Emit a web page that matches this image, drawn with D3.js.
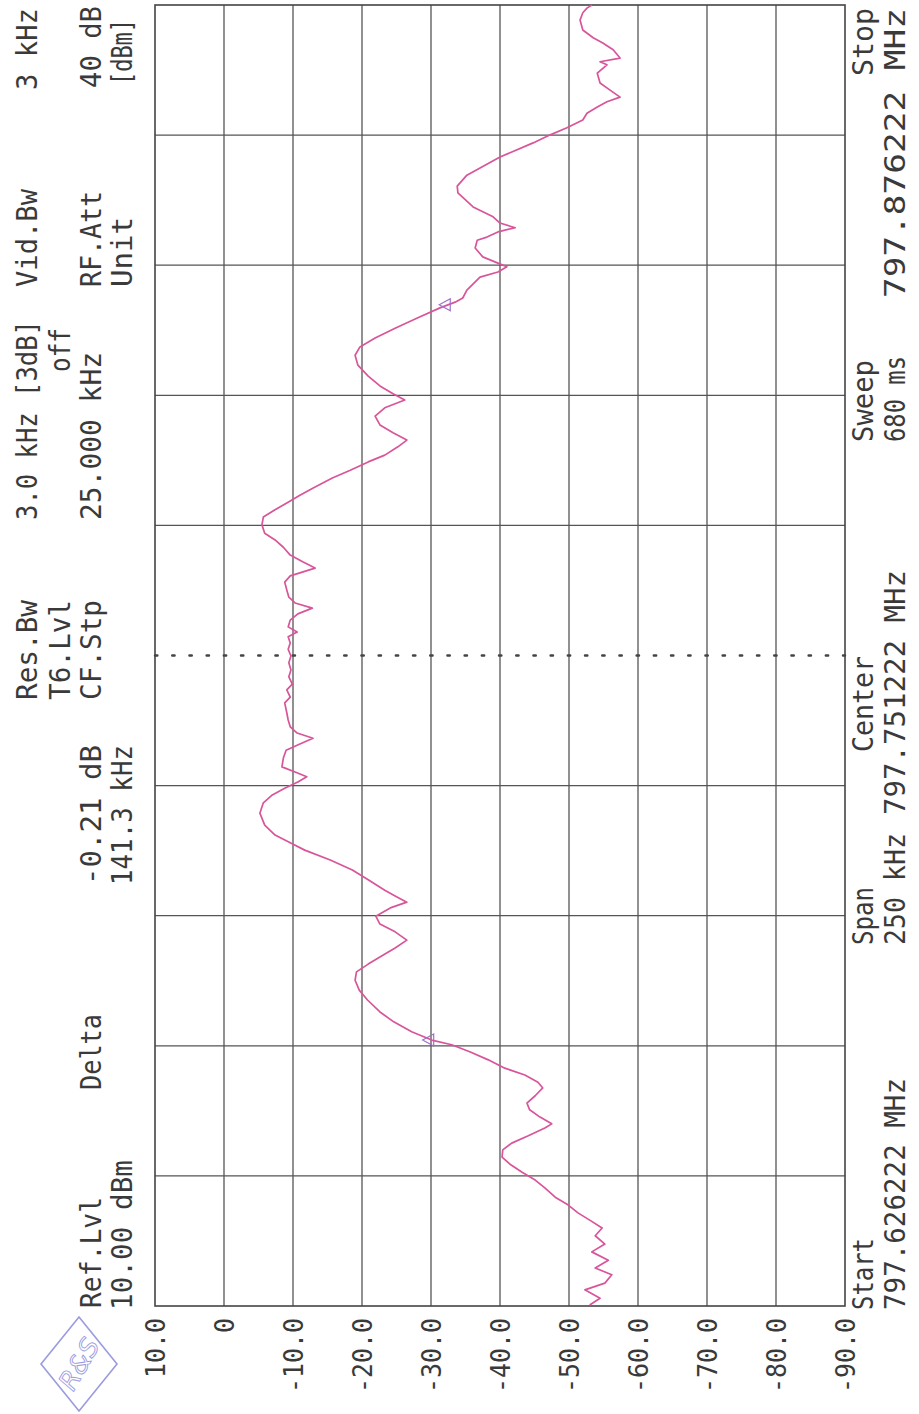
<!DOCTYPE html>
<html><head><meta charset="utf-8">
<script src="https://cdn.jsdelivr.net/npm/d3@7"></script>
<style>body{margin:0;background:#fff}svg{display:block}</style>
</head><body>
<svg id="c" width="919" height="1414"></svg>
<script>
// ---- data ----
const freqKHz = [0.2,1.5,3.1,4.4,6.0,7.3,8.8,10.4,11.9,13.5,15.0,16.5,17.9,19.4,20.9,22.7,24.2,25.7,27.3,28.6,30.0,31.3,32.7,34.2,35.0,36.3,37.7,39.0,40.4,41.9,43.0,44.4,45.7,47.3,48.8,50.2,51.1,52.7,54.6,56.5,58.8,60.7,62.6,64.2,65.7,67.3,68.8,70.3,71.9,73.4,74.9,76.5,77.6,78.8,79.9,81.9,83.8,85.7,87.6,89.0,90.5,92.4,94.7,96.7,98.2,99.5,100.7,101.7,102.6,103.6,105.3,106.8,108.0,109.1,110.1,111.3,112.6,114.0,115.9,117.0,118.4,119.5,120.9,122.2,123.6,124.9,126.2,127.4,128.6,129.5,130.5,131.8,133.0,134.1,135.1,136.2,137.6,139.1,140.3,141.8,143.0,144.3,145.8,147.2,148.5,150.1,151.6,153.0,154.3,155.8,157.4,159.1,160.6,162.2,163.5,165.1,166.4,167.8,169.3,171.0,172.6,174.1,175.3,176.8,178.7,180.8,182.7,184.3,186.0,187.9,189.9,191.8,192.9,193.7,195.2,197.7,198.7,199.7,200.4,201.6,203.3,204.8,205.4,206.4,207.2,208.1,209.3,211.2,213.9,215.2,217.3,220.8,223.5,225.0,226.4,227.9,229.2,230.4,231.4,232.3,233.7,235.0,236.9,238.5,239.1,239.8,241.4,242.7,243.7,245.2,247.1,248.5,249.4,250.0];
const levelDb = [-53.0,-54.5,-52.3,-55.2,-56.2,-53.8,-55.7,-53.3,-55.2,-53.8,-54.8,-53.0,-51.3,-49.9,-48.0,-46.5,-45.1,-43.2,-41.4,-40.3,-40.4,-41.7,-44.1,-46.5,-47.5,-45.8,-44.3,-43.9,-45.1,-46.2,-45.5,-43.6,-40.7,-38.3,-35.7,-33.0,-30.1,-27.2,-24.6,-22.6,-20.8,-19.6,-19.0,-19.2,-20.9,-22.9,-24.8,-26.5,-24.8,-22.6,-22.0,-24.1,-26.5,-24.8,-23.3,-20.9,-18.6,-15.4,-11.7,-9.6,-7.4,-5.9,-5.2,-5.7,-7.0,-8.8,-10.7,-12.0,-10.3,-8.4,-8.6,-9.0,-11.0,-12.9,-10.6,-9.6,-9.3,-9.1,-8.8,-9.6,-9.1,-9.9,-9.4,-9.7,-9.4,-9.7,-9.3,-9.6,-9.3,-10.6,-9.3,-9.6,-10.7,-12.8,-10.3,-9.4,-9.1,-8.8,-9.6,-13.2,-11.4,-9.6,-8.6,-7.4,-5.9,-5.5,-5.7,-7.4,-9.1,-11.0,-13.2,-15.7,-18.3,-20.9,-23.3,-25.2,-26.5,-24.5,-22.6,-21.9,-23.3,-26.2,-24.5,-22.6,-20.9,-19.4,-19.0,-19.7,-21.9,-24.8,-28.1,-31.3,-33.5,-34.6,-35.2,-37.1,-39.7,-41.0,-39.7,-37.5,-36.4,-36.7,-38.1,-39.7,-42.2,-40.0,-39.0,-36.1,-33.9,-33.8,-35.2,-40.0,-44.8,-47.2,-49.7,-52.0,-52.6,-54.1,-55.5,-57.4,-55.9,-54.5,-54.1,-55.5,-54.5,-57.4,-56.4,-54.9,-53.5,-52.0,-51.6,-52.0,-52.6,-53.3];
const dbTicks = [10,0,-10,-20,-30,-40,-50,-60,-70,-80,-90];
const dbTickLabels = ["10.0","0","-10.0","-20.0","-30.0","-40.0","-50.0","-60.0","-70.0","-80.0","-90.0"];
const freqTicks = [0,25,50,75,100,125,150,175,200,225,250];
const centerKHz = 125;
const markerKHz = [51.1, 192.4];
const headerLabels = ["Ref.Lvl","10.00 dBm","Delta","-0.21 dB","141.3 kHz","Res.Bw","T6.Lvl","CF.Stp","3.0 kHz [3dB]","off","25.000 kHz","Vid.Bw","RF.Att","Unit","3 kHz","40 dB","[dBm]"];
const footerLabels = ["Start","797.626222 MHz","Span","250 kHz","Center","797.751222 MHz","Sweep","680 ms","Stop","797.876222 MHz"];

// ---- layout ----
const svg = d3.select("#c");
const X0=155, X1=845, Y0=5, Y1=1306;
const x = d3.scaleLinear().domain([10,-90]).range([X0,X1]);
const y = d3.scaleLinear().domain([0,250]).range([Y1,Y0]);
const FONT = "'DejaVu Sans Mono', 'Liberation Mono', monospace";
const textCol = "#3a3a3a", gridCol = "#555";

// grid
const g = svg.append("g");
g.selectAll("line.v").data(dbTicks.slice(1,-1)).join("line")
  .attr("x1",d=>x(d)).attr("x2",d=>x(d)).attr("y1",Y0).attr("y2",Y1)
  .attr("stroke",gridCol).attr("stroke-width",1.3);
g.selectAll("line.h").data(freqTicks.slice(1,-1).filter(d=>d!==centerKHz)).join("line")
  .attr("x1",X0).attr("x2",X1).attr("y1",d=>y(d)).attr("y2",d=>y(d))
  .attr("stroke",gridCol).attr("stroke-width",1.3);
g.append("line").attr("x1",X0).attr("x2",X1).attr("y1",y(centerKHz)).attr("y2",y(centerKHz))
  .attr("stroke","#444").attr("stroke-width",2.4).attr("stroke-dasharray","2.4,14.8").attr("stroke-linecap","round");
g.append("rect").attr("x",X0).attr("y",Y0).attr("width",X1-X0).attr("height",Y1-Y0)
  .attr("fill","none").attr("stroke","#444").attr("stroke-width",1.6);

// trace
const pts = freqKHz.map((f,i)=>[f,levelDb[i]]);
svg.append("path").datum(pts)
  .attr("d", d3.line().x(d=>x(d[1])).y(d=>y(d[0])))
  .attr("fill","none").attr("stroke","#d8559a").attr("stroke-width",1.7).attr("stroke-linejoin","round");

// markers
const interp = f => { const i = d3.bisector(d=>d).left(freqKHz,f); if(i<=0) return levelDb[0]; const t=(f-freqKHz[i-1])/(freqKHz[i]-freqKHz[i-1]); return levelDb[i-1]+t*(levelDb[i]-levelDb[i-1]); };
svg.selectAll("path.mk").data(markerKHz).join("path")
  .attr("d", d=>{const px=x(interp(d)), py=y(d); return `M${px-9},${py} L${px+2},${py-6} L${px+2},${py+6} Z`;})
  .attr("fill","none").attr("stroke","#a070c8").attr("stroke-width",1.2);

// dB axis labels (rotated)
const ax = d3.axisBottom(x).tickValues(dbTicks).tickFormat((d,i)=>dbTickLabels[i]).tickSize(0);
const axg = svg.append("g").attr("transform",`translate(0,${Y1})`).call(ax);
axg.select(".domain").remove();
axg.selectAll("text").attr("transform","rotate(-90)").attr("x",-12).attr("y",0).attr("dy","0.36em")
  .attr("text-anchor","end").attr("font-family",FONT).attr("font-size",26).attr("fill",textCol)
  .attr("textLength",d=>dbTickLabels[dbTicks.indexOf(d)].length*15).attr("lengthAdjust","spacingAndGlyphs");

// rotated text helper: bx = baseline x, ay = anchor y (screen), anchor start => text runs upward from ay
function rtext(str, bx, ay, anchor, len, fs){
  svg.append("text").attr("transform",`translate(${bx},${ay}) rotate(-90)`)
    .attr("text-anchor",anchor).attr("font-family",FONT).attr("font-size",fs||28).attr("fill",textCol)
    .attr("textLength",len).attr("lengthAdjust","spacingAndGlyphs").text(str);
}
const H = headerLabels;
// line baselines
const L1=37, L2=70, L3=101, L4=132;
rtext(H[0], L3, 1308, "start", 111);
rtext(H[1], L4, 1310, "start", 150);
rtext(H[2], L3, 1090, "start", 76);
rtext(H[3], L3, 885, "start", 140);
rtext(H[4], L4, 885, "start", 140);
rtext(H[5], L1, 700, "start", 100);
rtext(H[6], L2, 700, "start", 100);
rtext(H[7], L3, 700, "start", 100);
rtext(H[8], L1, 520, "start", 200);
rtext(H[9], L2, 372, "start", 44);
rtext(H[10], L3, 520, "start", 168);
rtext(H[11], L1, 287, "start", 98);
rtext(H[12], L3, 287, "start", 96);
rtext(H[13], L4, 287, "start", 70);
rtext(H[14], L1, 90, "start", 82);
rtext(H[15], L3, 88, "start", 82);
rtext(H[16], L4, 85, "start", 66);

const F = footerLabels;
const R1=873, R2=905;
rtext(F[0], R1, 1310, "start", 72);
rtext(F[1], R2, 1310, "start", 232);
rtext(F[2], R1, 945, "start", 58);
rtext(F[3], R2, 945, "start", 112);
rtext(F[4], R1, 752, "start", 96);
rtext(F[5], R2, 815, "start", 245);
rtext(F[6], R1, 442, "start", 82);
rtext(F[7], R2, 442, "start", 86);
rtext(F[8], R1, 8, "end", 68);
rtext(F[9], R2, 8, "end", 290);

// logo
const lg = svg.append("g").attr("transform","translate(79,1364)");
lg.append("path").attr("d","M0,-47 L38,0 L0,47 L-38,0 Z").attr("fill","none").attr("stroke","#9b9be0").attr("stroke-width",1.6);
lg.append("text").attr("transform","rotate(-60)").attr("text-anchor","middle").attr("dy","0.35em")
  .attr("font-family","'DejaVu Sans'").attr("font-size",26).attr("font-style","italic").attr("fill","none")
  .attr("stroke","#9b9be0").attr("stroke-width",0.9).text("R&S");
</script>
</body></html>
